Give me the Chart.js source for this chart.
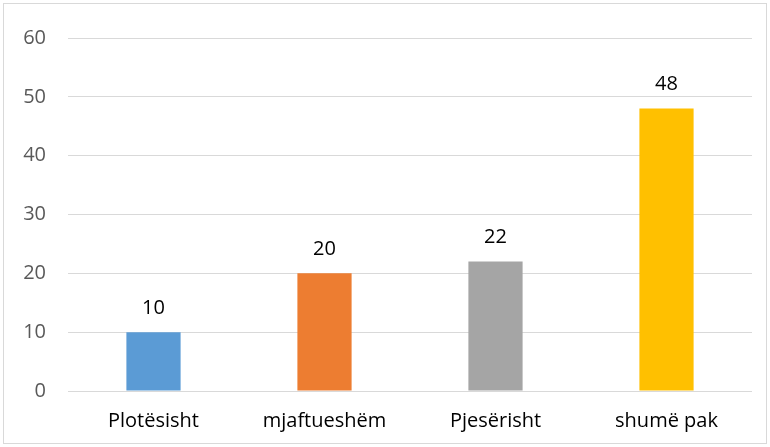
<!DOCTYPE html>
<html>
<head>
<meta charset="utf-8">
<script src="https://cdn.jsdelivr.net/npm/chart.js@4"></script>
<style>
  body { margin: 0; background: #fff; }
  #wrap { position: relative; width: 770px; height: 447px; }
  #frame { position: absolute; left: 3px; top: 3px; width: 762px; height: 439px; border: 1px solid #d9d9d9; }
  canvas { position: absolute; left: 0; top: 0; }
</style>
</head>
<body>
<div id="wrap">
  <div id="frame"></div>
  <canvas id="barChart" width="770" height="447"></canvas>
</div>
<script>
const categories = ['Plotësisht', 'mjaftueshëm', 'Pjesërisht', 'shumë pak'];
const values = [10, 20, 22, 48];
const barColors = ['#5B9BD5', '#ED7D31', '#A5A5A5', '#FFC000'];

// draws the value above each bar
const valueLabels = {
    id: 'valueLabels',
    afterDatasetsDraw(chart) {
        const ctx = chart.ctx;
        ctx.save();
        ctx.font = '20px "Open Sans", sans-serif';
        ctx.fillStyle = '#000';
        ctx.textAlign = 'center';
        ctx.textBaseline = 'middle';
        chart.getDatasetMeta(0).data.forEach((bar, i) => {
            ctx.fillText(values[i], bar.x, bar.y - 24);
        });
        ctx.restore();
    }
};

const ctx = document.getElementById('barChart').getContext('2d');
new Chart(ctx, {
    type: 'bar',
    data: {
        labels: categories,
        datasets: [{
            data: values,
            backgroundColor: barColors,
            barPercentage: 0.317,
            categoryPercentage: 1
        }]
    },
    options: {
        responsive: false,
        animation: false,
        layout: { padding: { left: 0, right: 18, top: 38, bottom: 0 } },
        plugins: {
            legend: { display: false },
            tooltip: { enabled: false }
        },
        scales: {
            x: {
                grid: { display: false },
                border: { display: false },
                ticks: {
                    color: '#000',
                    padding: 10,
                    font: { family: '"Open Sans", sans-serif', size: 20 }
                },
                afterFit(scale) { scale.height = 56; }
            },
            y: {
                min: 0,
                max: 60,
                ticks: {
                    stepSize: 10,
                    color: '#595959',
                    padding: 22,
                    font: { family: '"Open Sans", sans-serif', size: 20 }
                },
                grid: { color: '#d9d9d9', lineWidth: 1, drawTicks: false },
                border: { display: false },
                afterFit(scale) { scale.width = 68; }
            }
        }
    },
    plugins: [valueLabels]
});
</script>
</body>
</html>
